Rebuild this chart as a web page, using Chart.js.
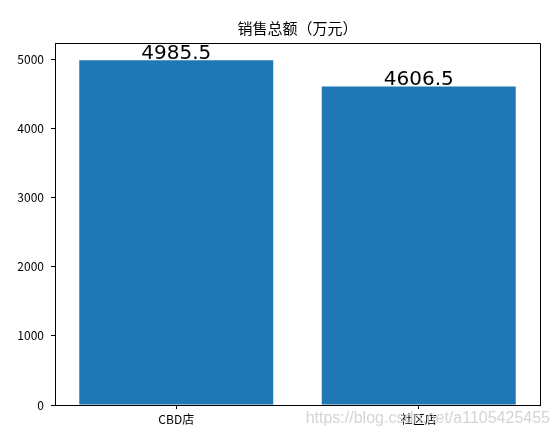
<!DOCTYPE html>
<html>
<head>
<meta charset="utf-8">
<script src="https://cdn.jsdelivr.net/npm/chart.js@4"></script>
<style>
  html, body { margin: 0; padding: 0; background: #fff; }
  #wrap { width: 554px; height: 432px; }
</style>
</head>
<body>
<div id="wrap"><canvas id="salesChart"></canvas></div>
<script>
// data
const stores = ['CBD店', '社区店']
const totals = [4985.5, 4606.5]
const yTicks = [0, 1000, 2000, 3000, 4000, 5000]
const yMax = 5235
const chartTitle = '销售总额（万元）'

const cjk = '"Noto Sans CJK SC", "Noto Sans", sans-serif'

// title over the plot, value labels above bars, top/right spines, watermark
const extras = {
    id: 'extras',
    afterDatasetsDraw(chart) {
        const ctx = chart.ctx
        const a = chart.chartArea
        const meta = chart.getDatasetMeta(0)
        ctx.save()
        ctx.fillStyle = '#000'
        ctx.font = '20px "DejaVu Sans", sans-serif'
        ctx.textAlign = 'center'
        ctx.textBaseline = 'alphabetic'
        meta.data.forEach((bar, i) => {
            ctx.fillText(totals[i].toFixed(1), bar.x, bar.y - 1)
        })

        ctx.font = '15px ' + cjk
        ctx.textBaseline = 'middle'
        ctx.fillText(chartTitle, (a.left + a.right) / 2, 28)

        ctx.strokeStyle = '#000'
        ctx.lineWidth = 1
        ctx.beginPath()
        ctx.moveTo(a.left, a.top + 0.5)
        ctx.lineTo(a.right + 0.5, a.top + 0.5)
        ctx.lineTo(a.right + 0.5, a.bottom)
        ctx.stroke()
        ctx.restore()
    },
    afterDraw(chart) {
        const ctx = chart.ctx
        ctx.save()
        ctx.font = '16px "Liberation Sans", Arial, sans-serif'
        ctx.fillStyle = 'rgba(205,205,205,0.85)'
        ctx.textAlign = 'right'
        ctx.textBaseline = 'middle'
        ctx.fillText('https://blog.csdn.net/a1105425455', 550, 419)
        ctx.restore()
    }
}

new Chart(document.getElementById('salesChart'), {
    type: 'bar',
    data: {
        labels: stores,
        datasets: [{
            data: totals,
            backgroundColor: '#1f77b4',
            borderWidth: 0,
            barPercentage: 0.8,
            categoryPercentage: 1
        }]
    },
    options: {
        responsive: true,
        maintainAspectRatio: false,
        animation: false,
        layout: { padding: { left: 0, right: 14, top: 43, bottom: 0 } },
        plugins: {
            legend: { display: false },
            tooltip: { enabled: false },
            title: { display: false }
        },
        scales: {
            x: {
                offset: true,
                grid: { display: true, drawOnChartArea: false, offset: false, tickLength: 4, color: '#000' },
                border: { color: '#000', width: 1 },
                ticks: { color: '#000', padding: 3, font: { family: cjk, size: 12 } },
                afterFit(scale) { scale.height = 27 }
            },
            y: {
                min: 0,
                max: yMax,
                afterBuildTicks(scale) { scale.ticks = yTicks.map(v => ({ value: v })) },
                grid: { display: true, drawOnChartArea: false, tickLength: 4, color: '#000' },
                border: { color: '#000', width: 1 },
                ticks: {
                    color: '#000',
                    padding: 7,
                    font: { family: cjk, size: 12 },
                    callback: v => String(v)
                },
                afterFit(scale) { scale.width = 55 }
            }
        }
    },
    plugins: [extras]
})
</script>
</body>
</html>
